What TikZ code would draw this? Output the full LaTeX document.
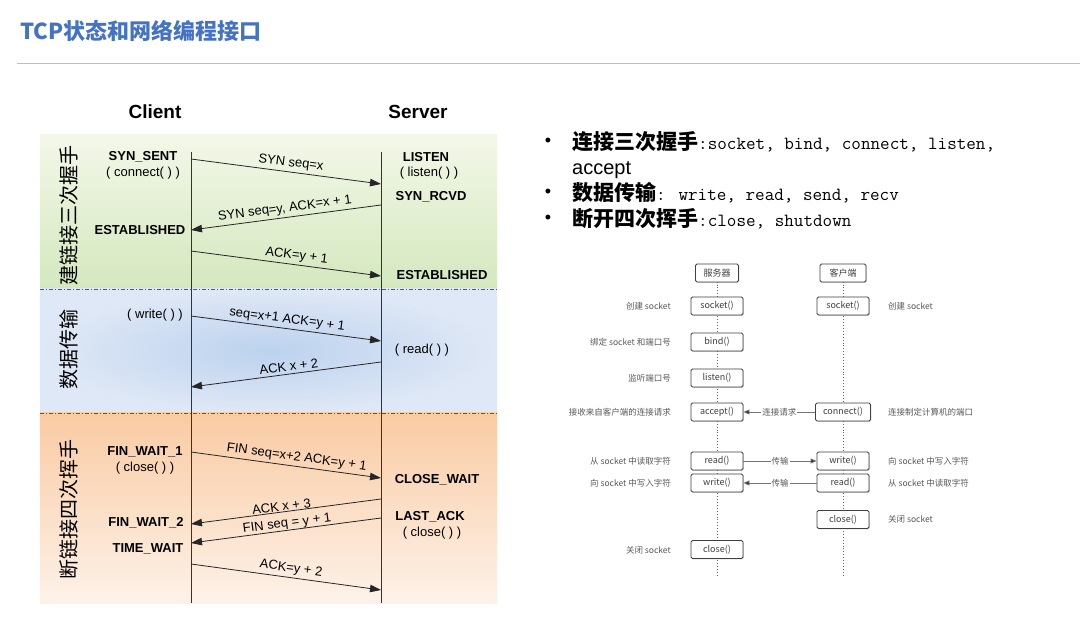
\documentclass[tikz,border=0pt]{standalone}
\usepackage{fontspec}
\setmainfont{Liberation Sans}
\newfontfamily\cjk{Noto Sans CJK SC}
\usetikzlibrary{arrows.meta,shadows}
\definecolor{titleblue}{HTML}{4472C4}
\definecolor{gtop}{HTML}{F3F7E8}
\definecolor{gbot}{HTML}{D4E8BE}
\definecolor{bin}{HTML}{BCD2EE}
\definecolor{bout}{HTML}{DFE8F6}
\definecolor{otop}{HTML}{F9CBA3}
\definecolor{obot}{HTML}{FDF2E9}
\tikzset{
  state/.style={font=\fontsize{13}{15}\selectfont\bfseries, inner sep=0pt},
  call/.style={font=\fontsize{13}{15}\selectfont, inner sep=0pt},
  head/.style={font=\fontsize{19}{21}\selectfont\bfseries, inner sep=0pt},
  msg/.style={-{Triangle[length=11pt,width=7.5pt]}, line width=0.8pt, draw=black!85},
  msglabel/.style={font=\fontsize{13}{15}\selectfont, sloped, above, inner sep=1.2pt},
  phase/.style={font=\cjk\fontsize{20}{22}\selectfont, rotate=90, inner sep=0pt},
  lifeline/.style={line width=0.9pt, draw=black!80},
  sep/.style={line width=0.8pt, draw=black!65, dash pattern=on 4pt off 2pt on 1pt off 2pt},
  fbox/.style={draw=black!75, fill=white, line width=0.8pt, rounded corners=1.5pt,
    minimum width=52pt, minimum height=18pt, inner sep=0pt,
    font=\cjk\fontsize{9}{10}\selectfont, text=black!75,
    drop shadow={shadow xshift=0.8pt, shadow yshift=-0.8pt, opacity=0.35}},
  note/.style={font=\cjk\fontsize{8.5}{10}\selectfont, text=black!65, inner sep=0pt},
  dotline/.style={draw=black!60, line width=0.9pt, dotted},
  farrow/.style={draw=black!55, line width=0.8pt, -{Triangle[length=6pt,width=5pt,fill=black!80]}},
  flabel/.style={note, fill=white, inner sep=1pt},
  bullet/.style={font=\fontsize{18}{20}\selectfont, inner sep=0pt},
  btext/.style={inner sep=0pt, anchor=base west}
}
\begin{document}
\begin{tikzpicture}[x=1pt,y=-1pt]
\useasboundingbox (0,0) rectangle (1080,620);
\fill[white] (0,0) rectangle (1080,620);

% title and rule
\node[anchor=west, inner sep=0pt, text=titleblue, font=\cjk\bfseries\fontsize{22}{24}\selectfont] (title) at (20,31) {TCP状态和网络编程接口};
\coordinate (ruleL) at (17,63);
\coordinate (ruleR) at (1080,63);
\draw[black!25, line width=0.9pt] (ruleL) -- (ruleR);

% backgrounds
\shade[top color=gtop, bottom color=gbot] (40,135) rectangle (497,289);
\shade[inner color=bin, outer color=bout] (40,289) rectangle (497,413);
\shade[top color=otop, bottom color=obot] (40,413) rectangle (497,603);
\coordinate (sep1L) at (40,289); \coordinate (sep1R) at (497,289);
\coordinate (sep2L) at (40,413); \coordinate (sep2R) at (497,413);
\draw[sep] (sep1L) -- (sep1R);
\draw[sep] (sep2L) -- (sep2R);

% headings
\node[head] (client) at (155,112) {Client};
\node[head] (server) at (418,112) {Server};

% lifelines
\coordinate (ctop) at (191,152); \coordinate (cbot) at (191,603);
\coordinate (stop) at (381,152); \coordinate (sbot) at (381,603);
\draw[lifeline] (ctop) -- (cbot);
\draw[lifeline] (stop) -- (sbot);

% phase labels
\node[phase] (ph1) at (69,216) {建链接三次握手};
\node[phase] (ph2) at (69,350) {数据传输};
\node[phase] (ph3) at (69,509) {断链接四次挥手};

% client states
\node[state] (synsent) at (143,157) {SYN\_SENT};
\node[call] (connectc) at (143,173) {( connect( ) )};
\node[state] (estc) at (140,230) {ESTABLISHED};
\node[call] (writec) at (155,315) {( write( ) )};
\node[state] (fw1) at (145,452) {FIN\_WAIT\_1};
\node[call] (closec) at (145,468) {( close( ) )};
\node[state] (fw2) at (146,523) {FIN\_WAIT\_2};
\node[state] (tw) at (148,549) {TIME\_WAIT};

% server states
\node[state] (listen) at (426,157) {LISTEN};
\node[call] (listens) at (429,173) {( listen( ) )};
\node[state] (synrcvd) at (431,197) {SYN\_RCVD};
\node[state] (ests) at (442,275) {ESTABLISHED};
\node[call] (reads) at (422,350) {( read( ) )};
\node[state] (closewait) at (437,480) {CLOSE\_WAIT};
\node[state] (lastack) at (430,517) {LAST\_ACK};
\node[call] (closes) at (432,533) {( close( ) )};

% message endpoints
\coordinate (a1) at (191,159); \coordinate (b1) at (381,184);
\coordinate (a2) at (381,205); \coordinate (b2) at (191,230);
\coordinate (a3) at (191,251); \coordinate (b3) at (381,276);
\coordinate (a4) at (191,316); \coordinate (b4) at (381,341);
\coordinate (a5) at (381,362); \coordinate (b5) at (191,387);
\coordinate (a6) at (191,452); \coordinate (b6) at (381,478);
\coordinate (a7) at (381,499); \coordinate (b7) at (191,524);
\coordinate (a8) at (381,518); \coordinate (b8) at (191,543);
\coordinate (a9) at (191,564); \coordinate (b9) at (381,590);

\draw[msg] (a1) -- node[msglabel, pos=0.52, inner sep=2.5pt] (l1) {SYN seq=x} (b1);
\draw[msg] (a2) -- node[msglabel, pos=0.5, inner sep=2.5pt] (l2) {SYN seq=y, ACK=x + 1} (b2);
\draw[msg] (a3) -- node[msglabel, pos=0.55, inner sep=2.5pt] (l3) {ACK=y + 1} (b3);
\draw[msg] (a4) -- node[msglabel, pos=0.5, inner sep=2.5pt] (l4) {seq=x+1 ACK=y + 1} (b4);
\draw[msg] (a5) -- node[msglabel, pos=0.48, inner sep=2.5pt] (l5) {ACK x + 2} (b5);
\draw[msg] (a6) -- node[msglabel, pos=0.55, inner sep=2.5pt] (l6) {FIN seq=x+2 ACK=y + 1} (b6);
\draw[msg] (a7) -- node[msglabel, pos=0.52, inner sep=0.5pt] (l7) {ACK x + 3} (b7);
\draw[msg] (a8) -- node[msglabel, pos=0.49, inner sep=0pt] (l8) {FIN seq = y + 1} (b8);
\draw[msg] (a9) -- node[msglabel, pos=0.52, inner sep=2.5pt] (l9) {ACK=y + 2} (b9);

% bullets
\node[bullet] (bu1) at (548,142) {•};
\node[bullet] (bu2) at (548,193) {•};
\node[bullet] (bu3) at (548,219) {•};
\node[btext] (t1) at (572,150) {{\cjk\bfseries\fontsize{21}{23}\selectfont 连接三次握手}{\ttfamily\fontsize{18.6}{20}\selectfont :socket, bind, connect, listen,}};
\node[btext, font=\fontsize{20}{22}\selectfont] (t2) at (572,175) {accept};
\node[btext] (t3) at (572,201) {{\cjk\bfseries\fontsize{21}{23}\selectfont 数据传输}{\ttfamily\fontsize{18.6}{20}\selectfont : write, read, send, recv}};
\node[btext] (t4) at (572,227) {{\cjk\bfseries\fontsize{21}{23}\selectfont 断开四次挥手}{\ttfamily\fontsize{18.6}{20}\selectfont :close, shutdown}};

% flowchart lifelines
\coordinate (sEnd) at (717,575);
\coordinate (cEnd) at (843,575);
\coordinate (sTop) at (717,273);
\coordinate (cTop) at (843,273);
\draw[dotline] (sTop) -- (sEnd);
\draw[dotline] (cTop) -- (cEnd);

% flowchart boxes
\node[fbox, minimum width=43pt] (srv) at (717,273) {服务器};
\node[fbox, minimum width=46pt] (cli) at (843,273) {客户端};
\node[fbox] (ssock) at (717,306) {socket()};
\node[fbox] (csock) at (843,306) {socket()};
\node[fbox] (bind) at (717,342) {bind()};
\node[fbox] (listenb) at (717,378) {listen()};
\node[fbox] (accept) at (717,412) {accept()};
\node[fbox, minimum width=55pt] (connect) at (843,412) {connect()};
\node[fbox] (sread) at (717,461) {read()};
\node[fbox] (cwrite) at (843,461) {write()};
\node[fbox] (swrite) at (717,483) {write()};
\node[fbox] (cread) at (843,483) {read()};
\node[fbox] (cclose) at (843,519.5) {close()};
\node[fbox] (sclose) at (717,549.5) {close()};

% flowchart arrows
\draw[farrow] (connect.west) -- node[flabel] (fl1) {连接请求} (accept.east);
\draw[farrow] (sread.east) -- node[flabel] (fl2) {传输} (cwrite.west);
\draw[farrow] (cread.west) -- node[flabel] (fl3) {传输} (swrite.east);

% flowchart notes left
\node[note, anchor=east] (n1) at (671,306) {创建 socket};
\node[note, anchor=east] (n2) at (671,342) {绑定 socket 和端口号};
\node[note, anchor=east] (n3) at (671,378) {监听端口号};
\node[note, anchor=east] (n4) at (671,412) {接收来自客户端的连接请求};
\node[note, anchor=east] (n5) at (671,461) {从 socket 中读取字符};
\node[note, anchor=east] (n6) at (671,483) {向 socket 中写入字符};
\node[note, anchor=east] (n7) at (671,550) {关闭 socket};
% right
\node[note, anchor=west] (m1) at (888,306) {创建 socket};
\node[note, anchor=west] (m2) at (888,412) {连接制定计算机的端口};
\node[note, anchor=west] (m3) at (888,461) {向 socket 中写入字符};
\node[note, anchor=west] (m4) at (888,483) {从 socket 中读取字符};
\node[note, anchor=west] (m5) at (888,519.5) {关闭 socket};
\end{tikzpicture}
\end{document}
